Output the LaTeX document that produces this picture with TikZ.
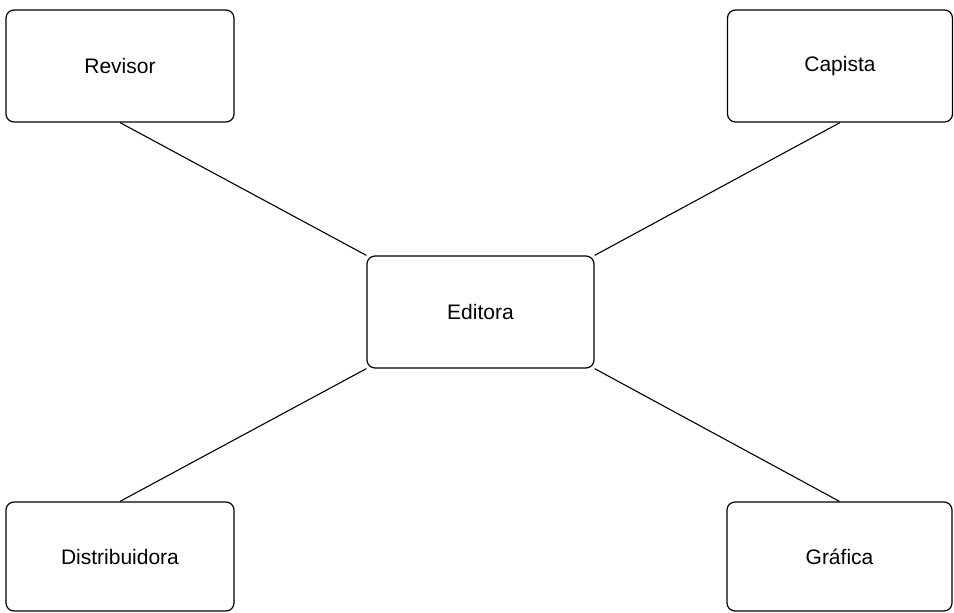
\documentclass[tikz,border=0pt]{standalone}
\usepackage{fontspec}
\setmainfont{Liberation Sans}
\begin{document}
\begin{tikzpicture}[x=1pt,y=-1pt,
  box/.style={draw, line width=1.2pt, rounded corners=8pt, inner sep=0pt,
    font=\fontsize{21}{25}\selectfont},
  conn/.style={line width=1.1pt}]
\useasboundingbox (0,0) rectangle (954,613);
\node[box, minimum width=228pt, minimum height=112pt] (rev) at (120,66) {Revisor};
\node[box, minimum width=225pt, minimum height=112pt] (cap) at (840,66) {Capista};
\node[box, minimum width=227pt, minimum height=112pt] (ed) at (480.5,312) {Editora};
\node[box, minimum width=228pt, minimum height=109pt] (dis) at (120,556.5) {Distribuidora};
\node[box, minimum width=225pt, minimum height=109pt] (gra) at (839.5,556.5) {Gráfica};
\draw[conn] (rev.south) -- (ed.north west);
\draw[conn] (cap.south) -- (ed.north east);
\draw[conn] (dis.north) -- (ed.south west);
\draw[conn] (gra.north) -- (ed.south east);
\end{tikzpicture}
\end{document}
